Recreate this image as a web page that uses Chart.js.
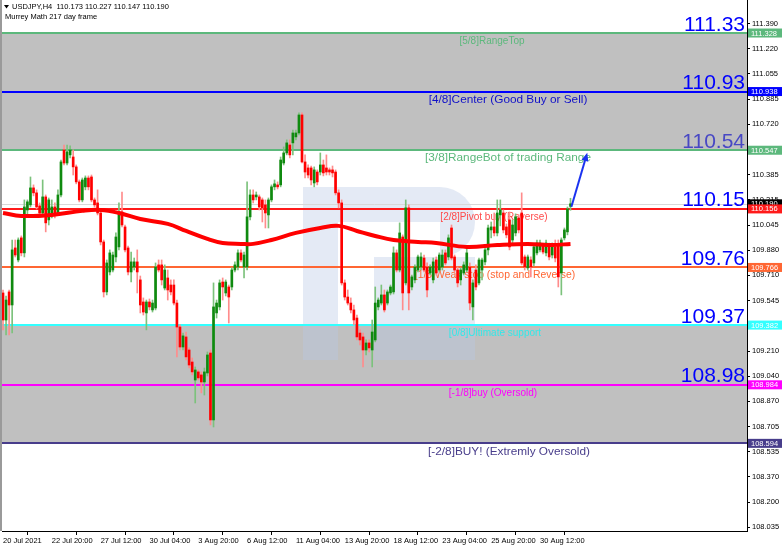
<!DOCTYPE html>
<html>
<head>
<meta charset="utf-8">
<script src="https://cdn.jsdelivr.net/npm/chart.js@4.4.0/dist/chart.umd.min.js"></script>
<style>
  html, body { margin: 0; padding: 0; background: #fff; }
  #wrap { width: 782px; height: 548px; }
</style>
</head>
<body>
<div id="wrap"><canvas id="chart" width="782" height="548"></canvas></div>
<script>
// bottom axis: every 16th H4 bar
const xTickIdx = [0, 16, 32, 48, 64, 80, 96, 112, 128, 144, 160, 176];
const xTickLabels = ['20 Jul 2021', '22 Jul 20:00', '27 Jul 12:00', '30 Jul 04:00', '3 Aug 20:00', '6 Aug 12:00',
  '11 Aug 04:00', '13 Aug 20:00', '18 Aug 12:00', '23 Aug 04:00', '25 Aug 20:00', '30 Aug 12:00'];

// right axis
const yTickValues = [111.390, 111.222, 111.055, 110.887, 110.719, 110.551, 110.384, 110.216, 110.048, 109.880, 109.713,
  109.545, 109.377, 109.209, 109.042, 108.874, 108.706, 108.538, 108.371, 108.203, 108.035];
const yTickLabels = ['111.390', '111.220', '111.055', '110.885', '110.720', '110.550', '110.385', '110.215', '110.045', '109.880', '109.710',
  '109.545', '109.375', '109.210', '109.040', '108.870', '108.705', '108.535', '108.370', '108.200', '108.035'];

// USDJPY H4 candles
const opens = [109.596,109.416,109.603,109.516,109.896,109.816,109.963,109.863,110.149,110.183,
  110.296,110.263,110.176,110.129,110.236,110.083,110.116,110.169,110.129,110.249,
  110.549,110.462,110.516,110.502,110.436,110.336,110.216,110.303,110.362,110.369,
  110.216,110.196,110.129,109.936,109.603,109.736,109.749,109.836,109.903,110.136,
  110.036,109.896,109.736,109.769,109.803,109.683,109.536,109.463,109.536,109.483,
  109.496,109.783,109.783,109.629,109.696,109.649,109.649,109.529,109.369,109.236,
  109.303,109.216,109.136,109.016,109.070,109.050,109.003,109.063,109.196,108.750,
  109.463,109.503,109.669,109.596,109.636,109.636,109.749,109.769,109.863,109.769,
  109.769,110.103,110.249,110.236,110.236,110.216,110.183,110.116,110.216,110.303,
  110.316,110.316,110.462,110.529,110.582,110.596,110.636,110.662,110.782,110.469,
  110.429,110.429,110.329,110.402,110.402,110.449,110.429,110.416,110.416,110.402,
  110.263,110.196,109.663,109.569,109.529,109.483,109.429,109.329,109.303,109.216,
  109.263,109.216,109.283,109.503,109.529,109.583,109.529,109.596,109.603,109.863,
  109.749,109.969,109.663,110.163,109.636,109.683,109.749,109.769,109.829,109.769,
  109.729,109.683,109.816,109.749,109.769,109.863,109.836,110.029,109.836,109.749,
  109.683,109.729,109.749,109.769,109.503,109.749,109.663,109.749,109.803,109.883,
  110.016,110.036,109.996,110.116,110.129,110.036,110.083,109.949,109.996,110.096,
  110.129,109.836,109.763,109.816,109.796,109.863,109.883,109.916,109.863,109.916,
  109.849,109.903,109.916,109.729,109.963,110.003,110.173];
const highs = [109.616,109.576,109.616,109.949,109.949,109.963,109.976,110.216,110.216,110.369,
  110.316,110.283,110.196,110.349,110.249,110.229,110.216,110.196,110.283,110.482,
  110.582,110.582,110.576,110.549,110.449,110.349,110.362,110.376,110.376,110.382,
  110.229,110.283,110.149,109.949,109.816,109.883,109.869,109.996,110.196,110.269,
  110.049,109.909,109.869,109.829,109.883,109.709,109.563,109.549,109.556,109.549,
  109.796,109.816,109.816,109.783,109.749,109.683,109.683,109.549,109.383,109.329,
  109.336,109.230,109.163,109.103,109.083,109.070,109.096,109.203,109.216,109.663,
  109.549,109.683,109.696,109.683,109.649,109.763,109.803,109.883,109.883,109.869,
  110.336,110.283,110.283,110.269,110.249,110.229,110.216,110.229,110.316,110.349,
  110.336,110.502,110.569,110.616,110.616,110.682,110.682,110.796,110.796,110.516,
  110.449,110.442,110.436,110.416,110.529,110.482,110.516,110.429,110.442,110.416,
  110.283,110.216,109.683,109.616,109.563,109.516,109.449,109.350,109.329,109.283,
  109.283,109.416,109.636,109.563,109.649,109.616,109.616,109.649,109.903,109.883,
  110.063,109.983,110.216,110.183,109.716,109.783,109.849,109.863,109.849,109.796,
  109.783,109.829,109.836,109.863,109.883,109.883,109.983,110.049,109.849,109.769,
  109.763,109.803,109.903,109.796,109.683,109.783,109.829,109.829,109.896,110.049,
  110.069,110.129,110.216,110.216,110.149,110.056,110.136,110.083,110.123,110.116,
  110.263,109.849,109.849,109.836,109.916,109.949,109.949,109.929,109.949,109.929,
  109.929,109.949,109.949,109.963,110.029,110.169,110.227];
const lows = [109.350,109.316,109.316,109.329,109.836,109.803,109.843,109.836,110.116,110.169,
  110.243,110.156,110.116,110.116,110.003,110.049,110.096,110.096,110.116,110.236,
  110.449,110.449,110.496,110.382,110.323,110.203,110.203,110.283,110.283,110.203,
  110.169,110.116,109.916,109.569,109.583,109.716,109.736,109.803,109.883,110.036,
  109.869,109.716,109.669,109.749,109.596,109.463,109.449,109.350,109.483,109.469,
  109.483,109.736,109.649,109.616,109.549,109.583,109.516,109.170,109.216,109.216,
  109.150,109.096,109.050,108.863,109.016,108.930,108.916,109.043,108.717,108.703,
  109.429,109.483,109.549,109.576,109.396,109.616,109.736,109.749,109.803,109.696,
  109.749,110.083,110.196,110.216,110.149,110.069,110.029,110.029,110.203,110.283,
  110.289,110.303,110.449,110.516,110.496,110.516,110.616,110.649,110.462,110.362,
  110.362,110.316,110.303,110.316,110.382,110.376,110.382,110.382,110.369,110.249,
  110.163,109.649,109.549,109.516,109.463,109.383,109.283,109.250,109.103,109.183,
  109.203,109.103,109.270,109.483,109.516,109.469,109.516,109.583,109.589,109.736,
  109.736,109.483,109.649,109.483,109.616,109.663,109.736,109.749,109.736,109.569,
  109.716,109.663,109.716,109.736,109.749,109.783,109.816,109.816,109.736,109.636,
  109.649,109.716,109.736,109.483,109.416,109.616,109.649,109.683,109.783,109.849,
  109.963,109.976,109.976,110.043,109.996,109.963,109.883,109.929,109.976,109.996,
  109.783,109.749,109.749,109.703,109.776,109.849,109.869,109.856,109.843,109.816,
  109.829,109.803,109.636,109.583,109.949,109.983,110.147];
const closes = [109.416,109.549,109.516,109.883,109.849,109.949,109.863,110.169,110.203,110.296,
  110.263,110.169,110.129,110.236,110.063,110.216,110.169,110.116,110.249,110.469,
  110.462,110.536,110.549,110.436,110.336,110.216,110.349,110.362,110.303,110.216,
  110.183,110.129,109.936,109.603,109.796,109.863,109.849,109.969,110.129,110.049,
  109.883,109.736,109.803,109.803,109.736,109.516,109.469,109.536,109.503,109.529,
  109.769,109.749,109.683,109.749,109.616,109.603,109.529,109.369,109.236,109.310,
  109.170,109.116,109.070,109.083,109.030,109.003,109.070,109.183,108.750,109.503,
  109.529,109.663,109.636,109.669,109.569,109.749,109.783,109.863,109.816,109.849,
  110.103,110.249,110.216,110.249,110.169,110.163,110.129,110.216,110.303,110.323,
  110.303,110.482,110.529,110.596,110.516,110.662,110.662,110.782,110.469,110.402,
  110.382,110.349,110.416,110.336,110.449,110.396,110.402,110.402,110.396,110.263,
  110.196,109.663,109.569,109.529,109.483,109.416,109.303,109.283,109.216,109.263,
  109.230,109.336,109.529,109.549,109.583,109.483,109.603,109.636,109.863,109.749,
  109.996,109.596,110.163,109.596,109.703,109.769,109.836,109.836,109.749,109.616,
  109.769,109.803,109.729,109.849,109.849,109.796,109.963,109.829,109.749,109.663,
  109.749,109.783,109.863,109.529,109.663,109.636,109.816,109.816,109.883,110.029,
  110.036,109.996,110.129,110.149,110.016,109.983,109.903,110.049,110.103,110.016,
  109.796,109.769,109.836,109.769,109.903,109.929,109.929,109.869,109.929,109.836,
  109.916,109.829,109.703,109.949,110.016,110.156,110.190];

// 217 day moving average, read at a few bars
const maIdx = [0, 6, 16, 26, 32, 38, 45, 54, 60, 67, 72, 78, 82, 88, 96, 104, 110, 116, 122, 128, 136, 142, 152, 162, 172, 180, 186];
const maVal = [110.129, 110.109, 110.116, 110.143, 110.149, 110.129, 110.089, 110.056, 110.009, 109.956, 109.929, 109.923, 109.923,
  109.949, 109.996, 110.029, 110.043, 110.009, 109.976, 109.949, 109.936, 109.929, 109.903, 109.916, 109.923, 109.916, 109.923];

// Murrey Math levels
const levelValues = [111.328, 110.938, 110.547, 110.156, 109.766, 109.382, 108.984, 108.594];
const levelNames = ['[5/8]RangeTop', '[4/8]Center (Good Buy or Sell)', '[3/8]RangeBot of trading Range', '[2/8]Pivot buy (Reverse)',
  '[1/8]Weak stop (stop and Reverse)', '[0/8]Ultimate support', '[-1/8]buy (Oversold)', '[-2/8]BUY! (Extremly Oversold)'];
const levelBig = ['111.33', '110.93', '110.54', '110.15', '109.76', '109.37', '108.98', ''];
const levelColors = ['#5cb87c', '#0000ff', '#5cb87c', '#ff1a1a', '#ff6633', '#33ffff', '#ff00ff', '#483d8b'];
const levelTextColors = ['#5cb87c', '#1010c8', '#5cb87c', '#ff4a4a', '#ff6633', '#33e8e8', '#ff00ff', '#483d8b'];
// where the level names sit (centre x, font px)
const nameX = [492, 508, 508, 494, 495, 495, 493, 509];
const nameSize = [10, 11.8, 11.8, 10, 10.4, 10, 10, 11.8];
const bandRanges = [[111.328, 110.547], [109.382, 108.594]];
const currentPrice = 110.190;
const header = ['USDJPY,H4  110.173 110.227 110.147 110.190', 'Murrey Math 217 day frame'];
const arrowFrom = [186.3, 110.17];
const arrowTo = [191.5, 110.53];

const FONT = "'Liberation Sans', Arial, sans-serif";

const isUp = closes.map((c, i) => c >= opens[i]);

const murreyPlugin = {
    id: 'murrey',
    beforeDatasetsDraw(chart) {
        const { ctx, chartArea: a, scales: { x, y } } = chart;
        ctx.save();
        ctx.beginPath();
        ctx.rect(a.left, a.top, a.right - a.left, a.bottom - a.top);
        ctx.clip();

        // grey bands
        ctx.fillStyle = '#c0c0c0';
        bandRanges.forEach(([hi, lo]) => {
            const y1 = y.getPixelForValue(hi), y2 = y.getPixelForValue(lo);
            ctx.fillRect(a.left, y1, a.right - a.left, y2 - y1);
        });

        // watermark "R"
        ctx.fillStyle = 'rgba(185, 200, 228, 0.38)';
        ctx.beginPath();
        ctx.rect(303, 187, 35, 173);
        ctx.rect(338, 187, 102, 35);
        ctx.rect(374, 257, 101, 103);
        ctx.fill();
        ctx.beginPath();
        ctx.moveTo(440, 187);
        ctx.arc(440, 222, 35, -Math.PI / 2, Math.PI / 2);
        ctx.lineTo(440, 187);
        ctx.fill();

        // current price line
        const cp = Math.round(y.getPixelForValue(currentPrice)) + 0.5;
        ctx.strokeStyle = '#d8d8d8';
        ctx.lineWidth = 1;
        ctx.beginPath(); ctx.moveTo(a.left, cp); ctx.lineTo(a.right, cp); ctx.stroke();

        // level lines
        levelValues.forEach((v, k) => {
            const py = Math.round(y.getPixelForValue(v));
            ctx.strokeStyle = levelColors[k];
            ctx.lineWidth = 2;
            ctx.beginPath(); ctx.moveTo(a.left, py); ctx.lineTo(a.right, py); ctx.stroke();
        });

        // level names
        ctx.textAlign = 'center';
        ctx.textBaseline = 'middle';
        levelNames.forEach((t, k) => {
            const py = y.getPixelForValue(levelValues[k]);
            ctx.font = nameSize[k] + 'px ' + FONT;
            ctx.fillStyle = levelTextColors[k];
            ctx.fillText(t, nameX[k], py + 8);
        });

        // big numbers at the right
        ctx.font = '21px ' + FONT;
        ctx.textAlign = 'right';
        ctx.textBaseline = 'alphabetic';
        levelBig.forEach((t, k) => {
            if (!t) return;
            const py = y.getPixelForValue(levelValues[k]);
            ctx.fillStyle = k === 2 ? '#4848c4' : '#0000ff';
            ctx.fillText(t, 745, py - 2.5);
        });
        ctx.restore();
    },
    afterDatasetsDraw(chart) {
        const { ctx, scales: { x, y } } = chart;
        // blue arrow
        const x1 = x.getPixelForValue(arrowFrom[0]), y1 = y.getPixelForValue(arrowFrom[1]);
        const x2 = x.getPixelForValue(arrowTo[0]), y2 = y.getPixelForValue(arrowTo[1]);
        const ang = Math.atan2(y2 - y1, x2 - x1);
        ctx.save();
        ctx.strokeStyle = '#1a32f0';
        ctx.fillStyle = '#1a32f0';
        ctx.lineWidth = 2;
        ctx.beginPath(); ctx.moveTo(x1, y1);
        ctx.lineTo(x2 - 6 * Math.cos(ang), y2 - 6 * Math.sin(ang)); ctx.stroke();
        ctx.beginPath();
        ctx.moveTo(x2, y2);
        ctx.lineTo(x2 - 9 * Math.cos(ang - 0.4), y2 - 9 * Math.sin(ang - 0.4));
        ctx.lineTo(x2 - 9 * Math.cos(ang + 0.4), y2 - 9 * Math.sin(ang + 0.4));
        ctx.closePath(); ctx.fill();
        ctx.restore();
    },
    afterDraw(chart) {
        const { ctx, chartArea: a, scales: { y } } = chart;
        ctx.save();
        // header
        ctx.fillStyle = '#000';
        ctx.font = '7.5px ' + FONT;
        ctx.textAlign = 'left';
        ctx.textBaseline = 'middle';
        ctx.beginPath();
        ctx.moveTo(4, 5); ctx.lineTo(9, 5); ctx.lineTo(6.5, 8.5); ctx.closePath(); ctx.fill();
        ctx.fillText(header[0], 12, 7);
        ctx.fillText(header[1], 5, 17);

        // left frame
        ctx.fillStyle = '#9a9a9a';
        ctx.fillRect(0, 0, 2, a.bottom);

        // price tags on the right axis
        ctx.font = '7.5px ' + FONT;
        const tag = (v, bg) => {
            const py = y.getPixelForValue(v);
            ctx.fillStyle = bg;
            ctx.fillRect(a.right + 1, py - 4.5, 782 - a.right - 1, 9);
            ctx.fillStyle = '#fff';
            ctx.fillText(v.toFixed(3), a.right + 4, py + 0.5);
        };
        tag(currentPrice, '#000');
        levelValues.forEach((v, k) => tag(v, levelColors[k]));
        ctx.restore();
    }
};

new Chart(document.getElementById('chart'), {
    type: 'bar',
    data: {
        datasets: [
            {
                type: 'line',
                data: maIdx.map((v, k) => ({ x: v, y: maVal[k] })),
                borderColor: '#ff0000',
                borderWidth: 4,
                pointRadius: 0,
                tension: 0.4,
                order: 0
            },
            {
                data: opens.map((o, i) => ({ x: i, y: [o, closes[i]] })),
                backgroundColor: isUp.map(u => u ? '#0f8a0f' : '#ff0000'),
                barThickness: 2,
                minBarLength: 1,
                grouped: false,
                order: 1
            },
            {
                data: highs.map((h, i) => ({ x: i, y: [lows[i], h] })),
                backgroundColor: isUp.map(u => u ? '#7cc27c' : '#ff8c8c'),
                barThickness: 1,
                grouped: false,
                order: 2
            }
        ]
    },
    options: {
        responsive: false,
        animation: false,
        devicePixelRatio: 1,
        layout: { padding: { left: 2, top: 0, right: 0, bottom: 0 } },
        plugins: { legend: { display: false }, tooltip: { enabled: false } },
        scales: {
            x: {
                type: 'linear',
                min: -0.33,
                max: 243.85,
                offset: false,
                grid: { drawOnChartArea: false, tickLength: 4, color: '#000' },
                border: { color: '#000' },
                afterBuildTicks: s => { s.ticks = xTickIdx.map(v => ({ value: v })); },
                afterFit: s => { s.height = 17; s.paddingLeft = 0; s.paddingRight = 0; },
                ticks: {
                    autoSkip: false,
                    maxRotation: 0,
                    align: 'start',
                    padding: 1,
                    color: '#000',
                    font: { family: FONT, size: 7.5 },
                    callback: v => xTickLabels[xTickIdx.indexOf(v)]
                }
            },
            y: {
                position: 'right',
                min: 108.010,
                max: 111.548,
                grid: { drawOnChartArea: false, tickLength: 3, color: '#000' },
                border: { color: '#000' },
                afterBuildTicks: s => { s.ticks = yTickValues.map(v => ({ value: v })); },
                afterFit: s => { s.width = 35; s.paddingTop = 0; s.paddingBottom = 0; },
                ticks: {
                    padding: 2,
                    color: '#000',
                    font: { family: FONT, size: 7.5 },
                    callback: v => yTickLabels[yTickValues.indexOf(v)]
                }
            }
        }
    },
    plugins: [murreyPlugin]
});
</script>
</body>
</html>
